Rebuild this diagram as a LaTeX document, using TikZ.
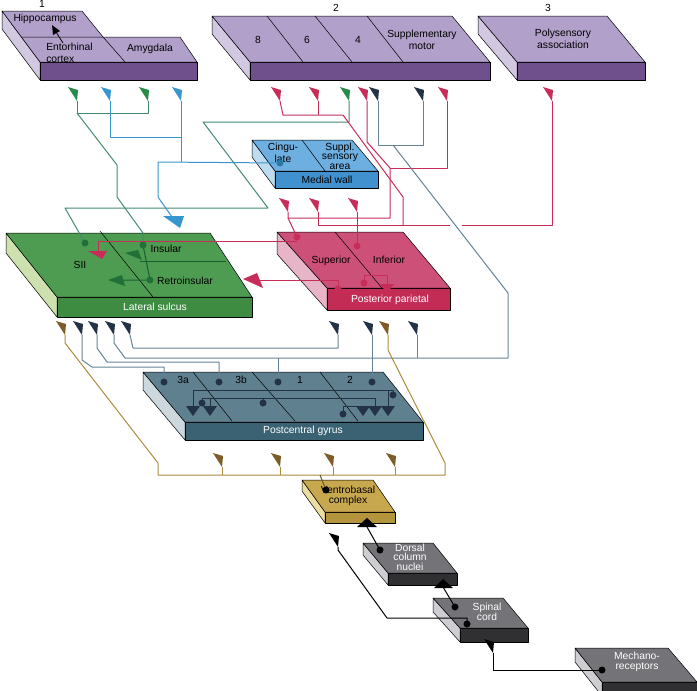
\documentclass[tikz,border=0pt]{standalone}
\usepackage{fontspec}
\setmainfont{Liberation Sans}
\usetikzlibrary{calc}
\definecolor{purTop}{RGB}{176,160,202}
\definecolor{purFront}{RGB}{112,80,140}
\definecolor{purSide}{RGB}{210,200,226}
\definecolor{bluTop}{RGB}{110,175,225}
\definecolor{bluFront}{RGB}{64,145,205}
\definecolor{bluSide}{RGB}{190,220,240}
\definecolor{grnTop}{RGB}{78,155,82}
\definecolor{grnFront}{RGB}{62,140,66}
\definecolor{grnSide}{RGB}{205,225,175}
\definecolor{redTop}{RGB}{205,80,120}
\definecolor{redFront}{RGB}{195,45,85}
\definecolor{redSide}{RGB}{232,180,200}
\definecolor{slaTop}{RGB}{95,128,142}
\definecolor{slaFront}{RGB}{58,98,115}
\definecolor{slaSide}{RGB}{205,215,222}
\definecolor{golTop}{RGB}{200,168,78}
\definecolor{golFront}{RGB}{180,148,60}
\definecolor{golSide}{RGB}{235,222,160}
\definecolor{gryTop}{RGB}{115,115,120}
\definecolor{gryFront}{RGB}{48,48,50}
\definecolor{grySide}{RGB}{205,205,210}
\definecolor{lnGreen}{RGB}{65,140,110}
\definecolor{tipGreen}{RGB}{40,140,70}
\definecolor{lnBlue}{RGB}{55,150,205}
\definecolor{lnRed}{RGB}{200,45,90}
\definecolor{lnNavy}{RGB}{100,130,150}
\definecolor{tipNavy}{RGB}{35,50,70}
\definecolor{lnBrown}{RGB}{170,140,60}
\definecolor{tipBrown}{RGB}{125,92,40}

% slab: colour prefix, top-left, top-right, bottom-right, bottom-left, depth
\newcommand{\slab}[6]{%
  \filldraw[fill=#1Side] #2 -- #5 -- ($#5+(0,#6)$) -- ($#2+(0,#6)$) -- cycle;
  \filldraw[fill=#1Front] #5 rectangle ($#4+(0,#6)$);
  \filldraw[fill=#1Top] #2 -- #3 -- #4 -- #5 -- cycle;}
% synapse marks
\newcommand{\tipmark}[2]{\fill[#1] #2 -- ++(-9,-14) -- ++(10,3) -- cycle;}
\newcommand{\cell}[2]{\fill[#1] #2 circle (3.5);}
\newcommand{\downtri}[2]{\fill[#1] #2 ++(-7,-5) -- ++(14,0) -- ++(-7,10) -- cycle;}

\begin{document}
\begin{tikzpicture}[x=1pt,y=-1pt,line join=round,line width=0.5pt,
    every node/.style={inner sep=0pt,align=center,font=\fontsize{10.3}{12.5}\selectfont},
    tight/.style={font=\fontsize{10.3}{9.5}\selectfont},
    wire/.style={line width=1pt}]
  \useasboundingbox (0,0) rectangle (697,691);
  \clip (0,0) rectangle (697,691);

  % cortical areas on top
  \filldraw[fill=purSide] (2,11) -- (40,62) -- (40,80) -- (2,29) -- cycle;
  \filldraw[fill=purFront] (40,62) rectangle (197,80);
  \filldraw[fill=purTop] (2,11) -- (82,11) -- (103,37) -- (180,37) -- (197,62) -- (40,62) -- cycle;
  \draw (21,37) -- (103,37) -- (125,62);
  \slab{pur}{(212,16)}{(452,16)}{(490,62)}{(250,62)}{18}
  \draw (267,16) -- (303,62) (315,16) -- (352,62) (367,16) -- (403,62);
  \slab{pur}{(478,16)}{(607,16)}{(645,62)}{(517,62)}{18}

  \node at (42,4) {1};
  \node at (336,8) {2};
  \node at (548,8) {3};
  \node (hippo) at (45,19) {Hippocampus};
  \node[anchor=west,align=left] (ento) at (46,53) {Entorhinal\\cortex};
  \node (amyg) at (150,49) {Amygdala};
  \node at (258,40) {8};
  \node at (307,40) {6};
  \node at (358,40) {4};
  \node (suppm) at (422,40) {Supplementary\\motor};
  \node (poly) at (563,39) {Polysensory\\association};
  \draw[line width=0.8pt] (63,43) -- (56,32);
  \fill (52,25) -- (60,31) -- (53,35) -- cycle;

  % medial wall
  \slab{blu}{(252,140)}{(352,140)}{(378,171)}{(275,171)}{17}
  \draw (302,140) -- (325,171);
  \node (cing) at (283,153) {Cingu-\\late};
  \node[tight] (ssa) at (340,156) {Suppl.\\sensory\\area};
  \node at (327,180) {Medial wall};

  % lateral sulcus
  \slab{grn}{(6,233)}{(210,233)}{(252,297)}{(57,297)}{20}
  \draw (100,231) -- (153,297);
  \node (sii) at (80,265) {SII};
  \node (insular) at (166,249) {Insular};
  \node (retro) at (185,281) {Retroinsular};
  \node[white] at (155,307) {Lateral sulcus};

  % posterior parietal
  \slab{red}{(277,232)}{(403,232)}{(450,288)}{(327,288)}{22}
  \draw (335,232) -- (382,288);
  \node (sup) at (331,261) {Superior};
  \node (inf) at (389,260) {Inferior};
  \node[white] at (390,300) {Posterior parietal};

  % postcentral gyrus
  \slab{sla}{(143,372)}{(383,372)}{(423,422)}{(185,422)}{18}
  \draw (193,372) -- (232,421) (252,372) -- (295,421) (320,372) -- (358,421);
  \node at (183,380) {3a};
  \node at (241,380) {3b};
  \node at (300,380) {1};
  \node at (350,380) {2};
  \node[white] at (303,431) {Postcentral gyrus};

  % thalamus, brain stem, cord, receptors
  \slab{gol}{(302,480)}{(373,480)}{(395,512)}{(325,512)}{11}
  \node[tight] (vb) at (348,496) {Ventrobasal\\complex};
  \slab{gry}{(363,543)}{(433,543)}{(457,573)}{(388,573)}{12}
  \node[tight,white] (dcn) at (410,557) {Dorsal\\column\\nuclei};
  \slab{gry}{(433,598)}{(503,598)}{(528,628)}{(460,628)}{14}
  \node[tight,white] (cord) at (487,612) {Spinal\\cord};
  \slab{gry}{(575,648)}{(668,648)}{(697,682)}{(602,682)}{14}
  \node[tight,white] (mech) at (637,662) {Mechano-\\receptors};

  % green pathways
  \draw[wire,lnGreen] (77,101) -- (77,113) -- (148,113) -- (148,101);
  \draw[wire,lnGreen] (77,113) -- (117,165) -- (117,197) -- (143,233) -- (143,245);
  \draw[wire,lnGreen] (349,101) -- (349,122) -- (203,122) -- (268,208) -- (65,208) -- (85,243);
  \draw[wire,tipGreen!70!black] (143,245) -- (150,280) -- (122,280);
  \draw[wire,tipGreen!70!black] (226,261) -- (140,261);

  % blue pathways
  \draw[wire,lnBlue] (110,101) -- (110,137) -- (181,137) -- (181,101);
  \draw[wire,lnBlue] (181,137) -- (181,162);
  \draw[wire,lnBlue] (280,163) -- (158,162) -- (158,197) -- (172,217);

  % red pathways
  \draw[wire,lnRed] (280,101) -- (283,115) -- (343,115) -- (403,197) -- (403,225);
  \draw[wire,lnRed] (318,101) -- (318,115);
  \draw[wire,lnRed] (318,212) -- (318,225) -- (450,225);
  \draw[wire,lnRed] (462,225) -- (552,225) -- (552,101);
  \draw[wire,lnRed] (367,101) -- (367,142) -- (390,168) -- (390,218) -- (288,218) -- (288,212);
  \draw[wire,lnRed] (447,101) -- (447,168) -- (390,168);
  \draw[wire,lnRed] (288,218) -- (297,237);
  \draw[wire,lnRed] (357,212) -- (357,246);
  \draw[wire,lnRed] (297,241) -- (98,241) -- (98,251);
  \draw[wire,lnRed] (338,289) -- (338,280) -- (260,280);
  \draw[wire,lnRed] (364,283) -- (364,275) -- (387,275) -- (387,284);

  % somatosensory cortex pathways
  \draw[wire,lnNavy] (378,101) -- (378,145) -- (423,145) -- (423,101);
  \draw[wire,lnNavy] (393,145) -- (508,293) -- (508,358) -- (125,358) -- (114,343) -- (114,335);
  \draw[wire,lnNavy] (372,335) -- (372,382);
  \draw[wire,lnNavy] (278,358) -- (278,382);
  \draw[wire,lnNavy] (417,335) -- (417,358);
  \draw[wire,lnNavy] (130,335) -- (133,348) -- (338,348) -- (338,335);
  \draw[wire,lnNavy] (97,335) -- (97,348) -- (107,362) -- (219,362) -- (219,382);
  \draw[wire,lnNavy] (82,335) -- (82,360) -- (92,367) -- (164,367) -- (164,382);
  \draw[wire,tipNavy] (393,395) -- (393,390) -- (193,390) -- (193,406);
  \draw[wire,tipNavy] (388,390) -- (388,406);
  \draw[wire,tipNavy] (202,403) -- (202,398) -- (375,398) -- (375,406);
  \draw[wire,tipNavy] (210,398) -- (210,406);
  \draw[wire,tipNavy] (263,403) -- (263,398);
  \draw[wire,tipNavy] (343,414) -- (343,406) -- (363,406);

  % thalamic pathways
  \draw[wire,lnBrown] (65,335) -- (65,343) -- (158,463) -- (158,475) -- (445,475) -- (445,463) -- (388,350) -- (388,335);
  \foreach \x in {222,280,333,395}
    \draw[wire,lnBrown] (\x,467) -- (\x,475);
  \draw[wire,lnBrown!60!black] (320,475) -- (326,490);

  % ascending pathways
  \draw[wire] (380,550) -- (367,527);
  \draw[wire] (455,607) -- (443,587);
  \draw[wire] (467,624) -- (467,618) -- (387,618) -- (338,550) -- (338,547);
  \draw[wire] (602,670) -- (493,670) -- (493,653);

  % terminals
  \foreach \p in {(77,101),(148,101),(349,101)} {\tipmark{tipGreen}{\p}}
  \foreach \p in {(110,101),(181,101)} {\tipmark{lnBlue}{\p}}
  \foreach \p in {(280,101),(318,101),(367,101),(447,101),(552,101),(288,212),(318,212),(357,212)} {\tipmark{lnRed}{\p}}
  \foreach \p in {(378,101),(423,101),(82,335),(97,335),(114,335),(130,335),(338,335),(372,335),(417,335)} {\tipmark{tipNavy}{\p}}
  \foreach \p in {(65,335),(388,335),(222,467),(280,467),(333,467),(395,467)} {\tipmark{tipBrown}{\p}}
  \tipmark{black}{(338,547)}
  \tipmark{black}{(493,653)}

  \fill[lnRed] (88,251) -- (107,251) -- (102,259) -- cycle;
  \fill[tipGreen!80!black] (125,253) -- (138,250) -- (142,260) -- cycle;
  \fill[tipGreen!80!black] (108,280) -- (122,275) -- (125,286) -- cycle;
  \fill[lnBlue] (163,216) -- (184,216) -- (180,228) -- cycle;
  \fill[lnRed] (243,279) -- (257,273) -- (263,288) -- cycle;
  \fill[lnRed] (380,284) -- (394,284) -- (387,293) -- cycle;
  \foreach \p in {(193,411),(210,411),(363,411),(375,411),(388,411)} {\downtri{tipNavy}{\p}}
  \fill (357,527) -- (377,527) -- (367,518) -- cycle;
  \fill (434,588) -- (453,588) -- (443,579) -- cycle;

  % cell bodies
  \foreach \p in {(85,243),(143,245),(150,280)} {\cell{tipGreen!80!black}{\p}}
  \cell{lnBlue!80!black}{(280,163)}
  \foreach \p in {(297,237),(357,246),(338,289),(364,283)} {\cell{lnRed}{\p}}
  \foreach \p in {(164,382),(219,382),(278,382),(372,382),(202,403),(263,403),(393,395),(343,414)} {\cell{tipNavy}{\p}}
  \foreach \p in {(326,490),(380,550),(455,607),(467,624),(602,670)} {\cell{black}{\p}}
\end{tikzpicture}
\end{document}
